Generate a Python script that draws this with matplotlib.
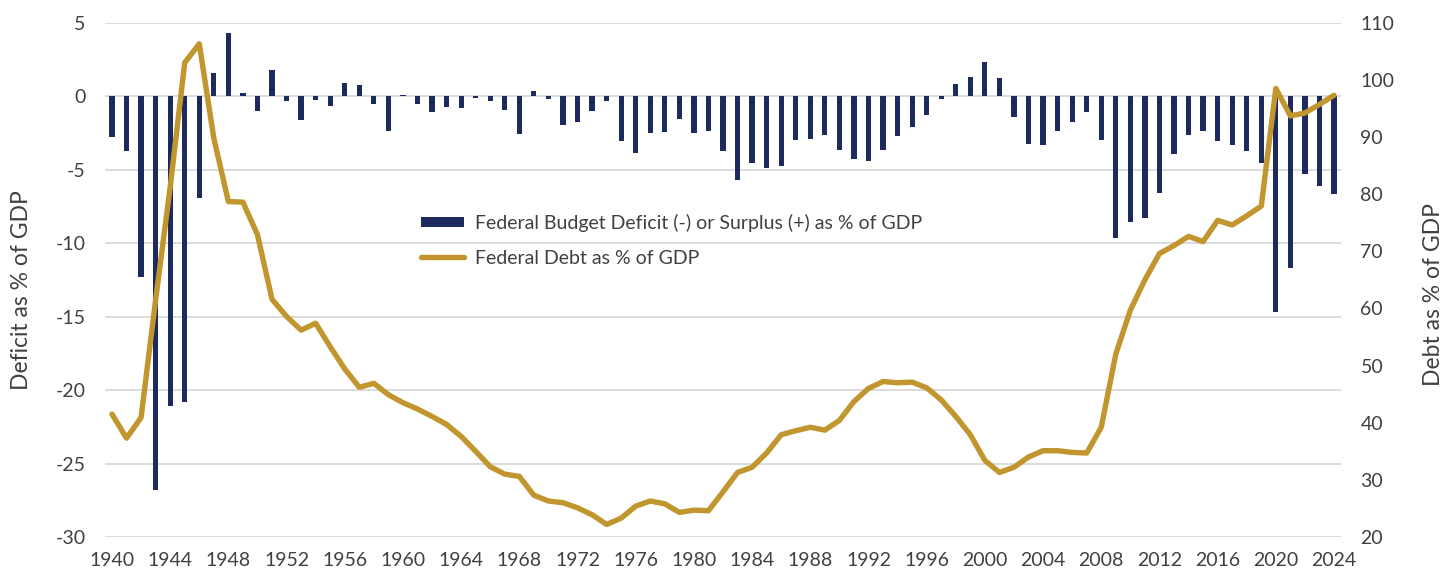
import matplotlib
matplotlib.use("Agg")
import matplotlib.pyplot as plt
from matplotlib.lines import Line2D
from matplotlib.patches import Patch

years = list(range(1940, 2025))

deficit_pct_gdp = [
    -2.8, -3.75, -12.3, -26.8, -21.1, -20.8, -6.9, 1.6, 4.3, 0.2,
    -1.0, 1.8, -0.35, -1.65, -0.26, -0.66, 0.9, 0.75, -0.56, -2.4,
    0.05, -0.56, -1.1, -0.72, -0.8, -0.13, -0.33, -0.93, -2.6, 0.37,
    -0.18, -1.93, -1.75, -1.0, -0.3, -3.07, -3.9, -2.53, -2.43, -1.53,
    -2.53, -2.38, -3.75, -5.69, -4.52, -4.87, -4.75, -3.0, -2.9, -2.65,
    -3.65, -4.3, -4.4, -3.65, -2.73, -2.1, -1.3, -0.18, 0.8, 1.33,
    2.3, 1.23, -1.4, -3.25, -3.3, -2.38, -1.75, -1.05, -3.0, -9.68,
    -8.53, -8.28, -6.56, -3.95, -2.65, -2.38, -3.07, -3.3, -3.7, -4.52,
    -14.66, -11.72, -5.29, -6.14, -6.66,
]

debt_pct_gdp = [
    41.5, 37.3, 40.9, 61.5, 81.2, 103.0, 106.3, 89.8, 78.7, 78.6,
    72.9, 61.6, 58.6, 56.2, 57.4, 53.3, 49.4, 46.2, 46.9, 44.9,
    43.5, 42.4, 41.1, 39.7, 37.6, 35.0, 32.3, 31.0, 30.6, 27.3,
    26.3, 26.0, 25.1, 23.9, 22.2, 23.3, 25.4, 26.3, 25.8, 24.3,
    24.7, 24.6, 27.9, 31.3, 32.2, 34.7, 37.9, 38.6, 39.2, 38.7,
    40.4, 43.7, 46.0, 47.2, 47.0, 47.1, 46.1, 44.0, 41.1, 37.9,
    33.4, 31.3, 32.2, 34.0, 35.1, 35.1, 34.8, 34.7, 39.2, 52.0,
    59.7, 65.0, 69.6, 71.0, 72.6, 71.7, 75.4, 74.6, 76.2, 77.9,
    98.5, 93.7, 94.2, 95.7, 97.3,
]

x_ticks = list(range(1940, 2025, 4))
left_ticks = [5, 0, -5, -10, -15, -20, -25, -30]
right_ticks = [20, 30, 40, 50, 60, 70, 80, 90, 100, 110]

label_bar = "Federal Budget Deficit (-) or Surplus (+) as % of GDP"
label_line = "Federal Debt as % of GDP"
ylabel_left = "Deficit as % of GDP"
ylabel_right = "Debt as % of GDP"

NAVY = "#1d2a5d"
GOLD = "#c1962f"
GRID = "#d9d9d9"
TEXT = "#404040"

plt.rcParams["font.family"] = ["Lato", "DejaVu Sans"]
plt.rcParams["axes.unicode_minus"] = False

W, H = 1453, 571
fig = plt.figure(figsize=(W / 100, H / 100), dpi=100)
ax_left_px, ax_right_px, ax_top_px, ax_bot_px = 105, 1341, 22.7, 537
ax = fig.add_axes([ax_left_px / W, 1 - ax_bot_px / H,
                   (ax_right_px - ax_left_px) / W, (ax_bot_px - ax_top_px) / H])
ax2 = ax.twinx()

ax.set_axisbelow(True)
ax.grid(axis="y", color=GRID, linewidth=1.3)
ax.bar(years, deficit_pct_gdp, width=0.36, color=NAVY, zorder=2)
ax2.plot(years, debt_pct_gdp, color=GOLD, linewidth=3.9,
         solid_joinstyle="round", solid_capstyle="round", zorder=3)

ax.set_xlim(1939.52, 2024.48)
ax.set_ylim(-30, 5)
ax2.set_ylim(20, 110)
ax.set_xticks(x_ticks)
ax.set_yticks(left_ticks)
ax2.set_yticks(right_ticks)

for a in (ax, ax2):
    for s in a.spines.values():
        s.set_visible(False)
ax.tick_params(axis="x", length=0, pad=11, labelsize=14, labelcolor=TEXT)
ax.tick_params(axis="y", length=0, pad=14, labelsize=14, labelcolor=TEXT)
ax2.tick_params(axis="y", length=0, pad=14, labelsize=14, labelcolor=TEXT)

fig.text(22 / W, 1 - 290 / H, ylabel_left, rotation=90, ha="center",
         va="center", fontsize=16.5, color=TEXT)
fig.text(1433 / W, 1 - 295 / H, ylabel_right, rotation=90, ha="center",
         va="center", fontsize=16.5, color=TEXT)

handles = [Patch(facecolor=NAVY, edgecolor="none"),
           Line2D([0], [0], color=GOLD, linewidth=3.9, solid_capstyle="round")]
ax.legend(handles, [label_bar, label_line], loc="upper left",
          bbox_to_anchor=((421 - ax_left_px) / (ax_right_px - ax_left_px),
                          1 - (214 - ax_top_px) / (ax_bot_px - ax_top_px)),
          frameon=False, fontsize=14, labelcolor=TEXT, handlelength=2.2,
          handleheight=0.45, handletextpad=0.6, labelspacing=0.9,
          borderpad=0, borderaxespad=0)

fig.savefig("out.png", dpi=100)
